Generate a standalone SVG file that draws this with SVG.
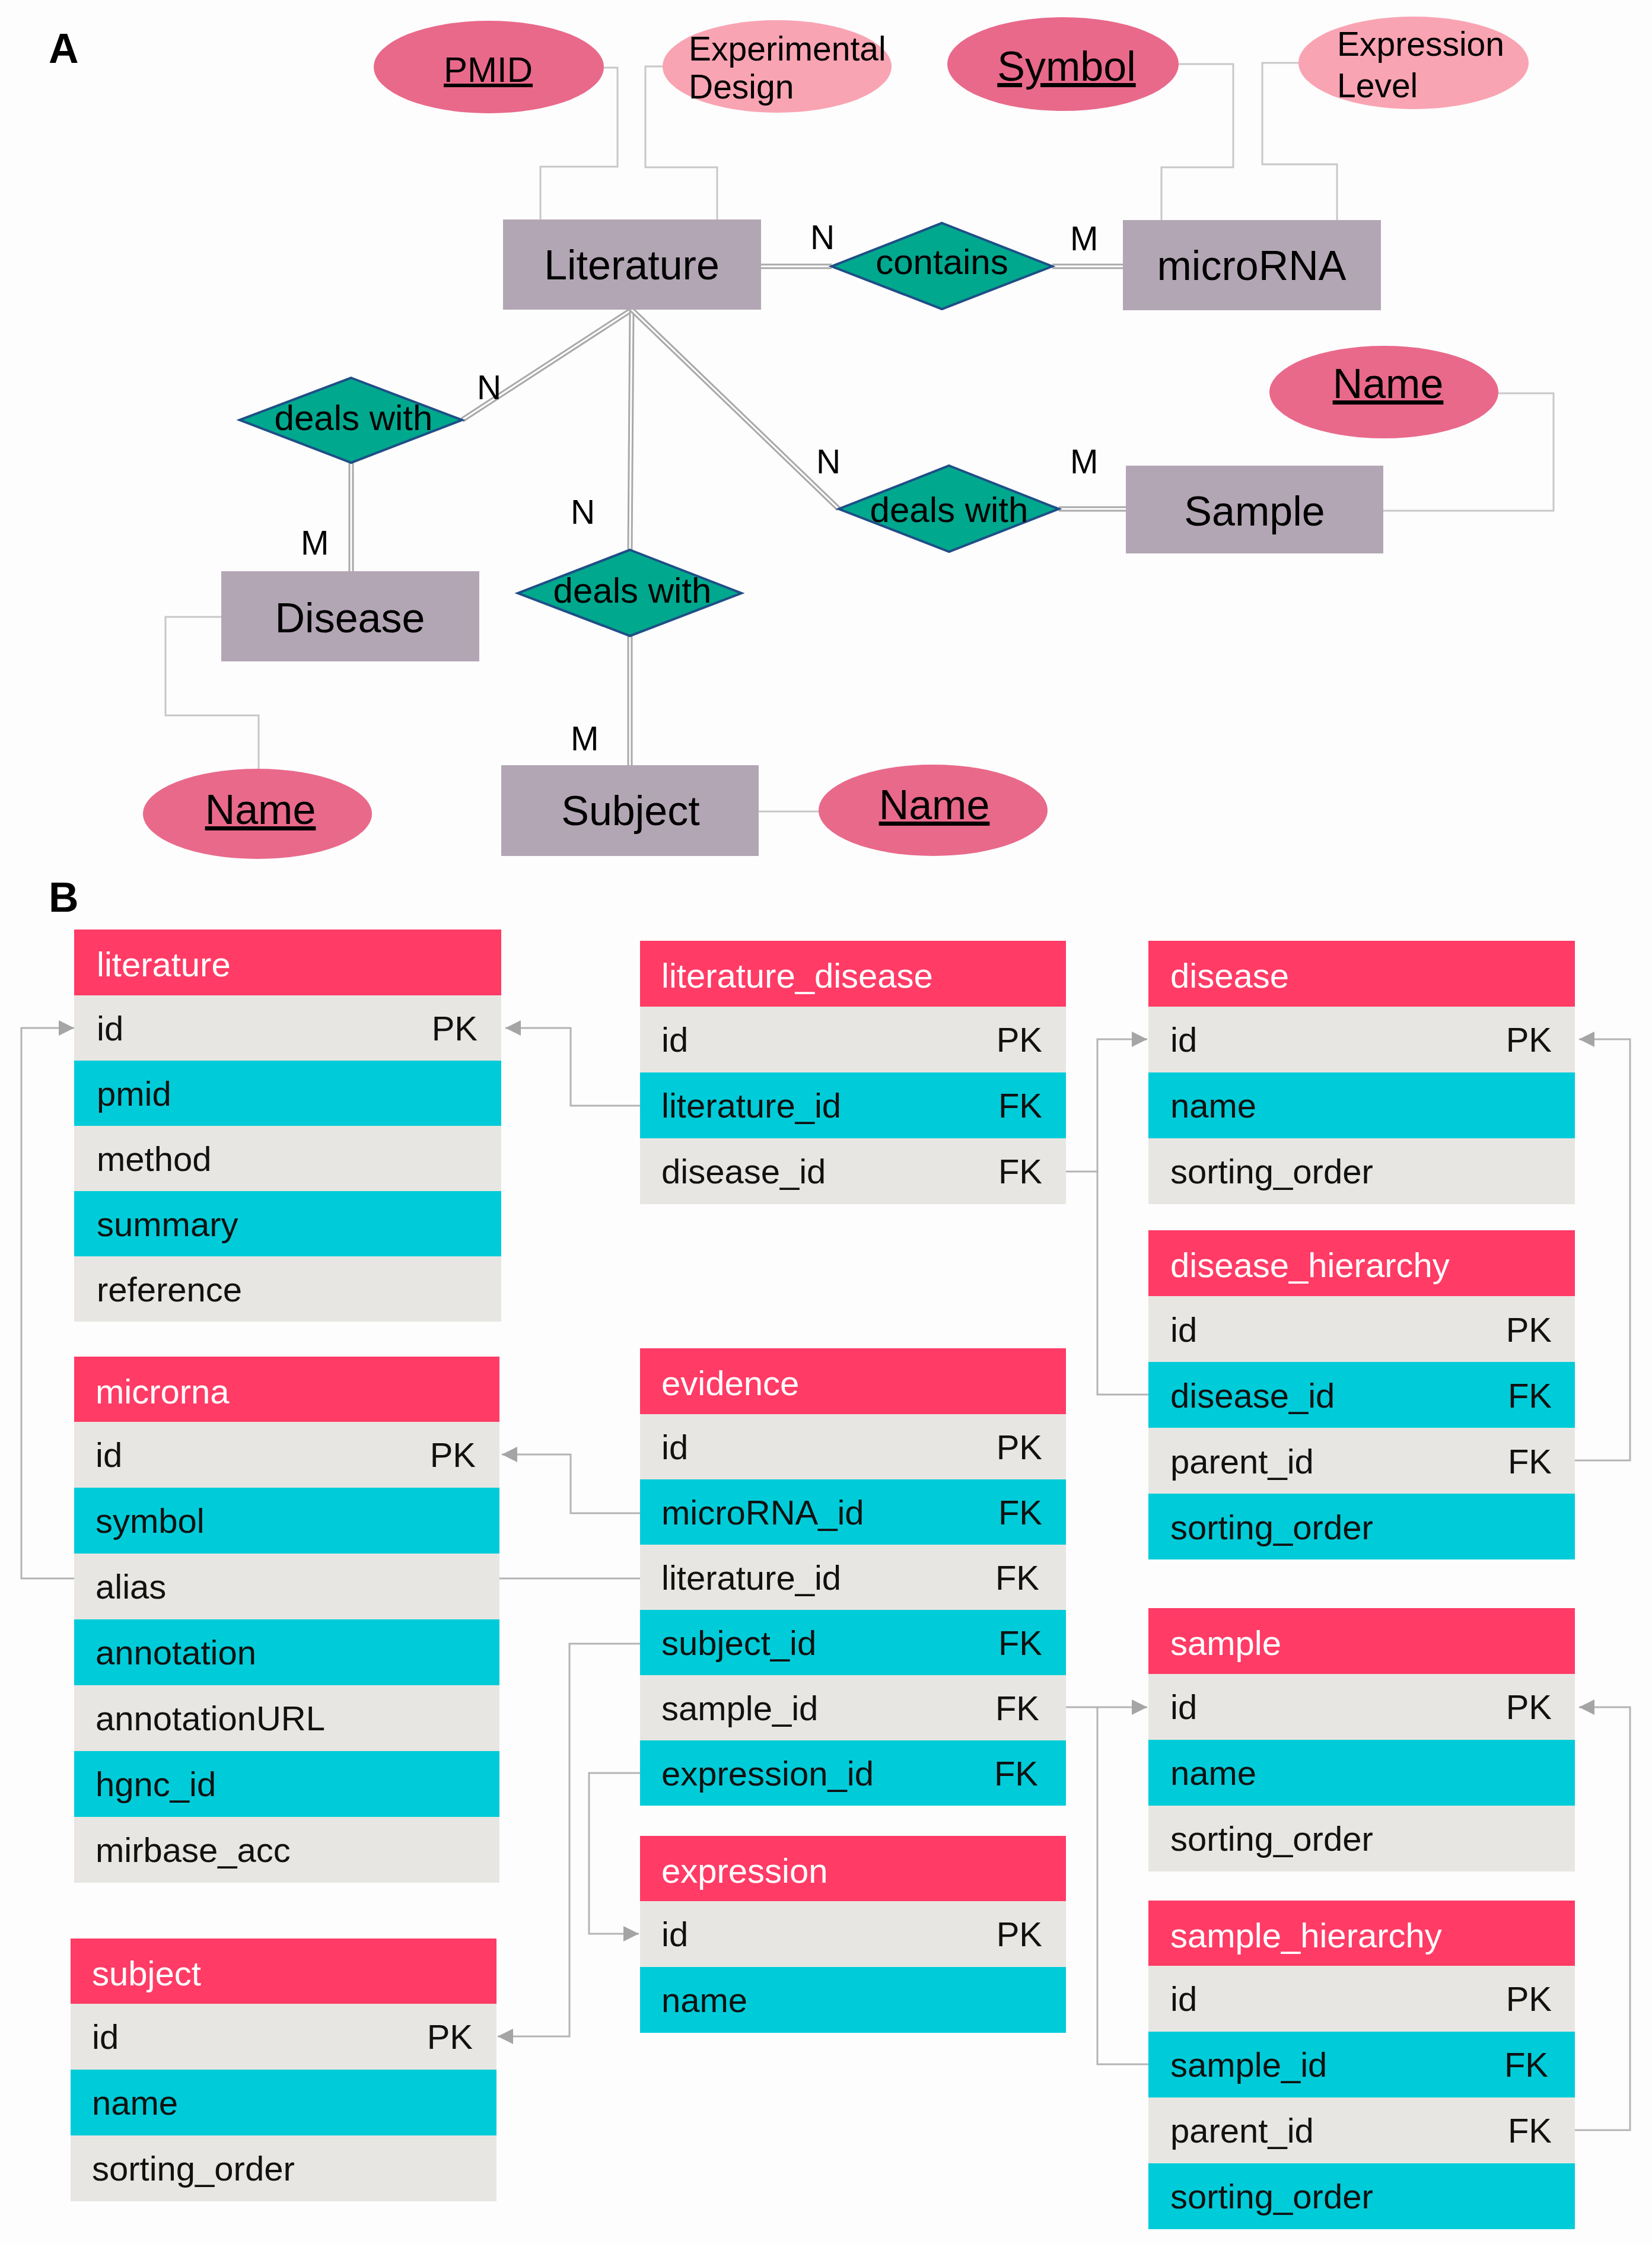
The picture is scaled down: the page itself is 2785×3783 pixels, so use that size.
<svg xmlns="http://www.w3.org/2000/svg" width="2785" height="3783" viewBox="0 0 2785 3783">
<style>
.ent{fill:#B3A6B4}
.rel{fill:#00A88E;stroke:#1F4E86;stroke-width:4;stroke-linejoin:miter}
.key{fill:#E9698B}
.att{fill:#F9A4B3}
.t70{font-family:"Liberation Sans",Arial,sans-serif;font-size:70px;fill:#000;text-anchor:middle}
.t60{font-family:"Liberation Sans",Arial,sans-serif;font-size:60px;fill:#000;text-anchor:middle}
.t57{font-family:"Liberation Sans",Arial,sans-serif;font-size:57px;fill:#000}
.lab{font-family:"Liberation Sans",Arial,sans-serif;font-size:57px;fill:#000}
.u{text-decoration:underline}
.big{font-family:"Liberation Sans",Arial,sans-serif;font-size:70px;font-weight:bold;fill:#000}
.dbo{fill:none;stroke:#A9A9A9;stroke-width:9}
.dbi{fill:none;stroke:#FFFFFF;stroke-width:3}
.thin{fill:none;stroke:#C8C8C8;stroke-width:3}
.fk{fill:none;stroke:#B4B4B4;stroke-width:3}
.hdr{fill:#FF3B66}
.g{fill:#E8E6E2}
.c{fill:#00CCD9}
.ht{font-family:"Liberation Sans",Arial,sans-serif;font-size:58px;fill:#FFFFFF}
.rt{font-family:"Liberation Sans",Arial,sans-serif;font-size:58px;fill:#111}
.k{text-anchor:end}
</style>
<defs>
<marker id="arr" viewBox="0 0 10 10" refX="10" refY="5" markerWidth="26" markerHeight="32" markerUnits="userSpaceOnUse" orient="auto">
<path d="M0,0 L10,5 L0,10 z" fill="#A5A5A5"/>
</marker>
</defs>
<rect x="0" y="0" width="2785" height="3783" fill="#FDFDFD"/>
<text class="big" x="82" y="106">A</text>
<text class="big" x="82" y="1537">B</text>

<g id="connectors-A">
<path class="thin" d="M1018,114 H1041 V281 H911 V370"/>
<path class="thin" d="M1119,112 H1088 V282 H1209 V370"/>
<path class="thin" d="M1987,108 H2079 V282 H1958 V371"/>
<path class="thin" d="M2189,106 H2128 V277 H2254 V371"/>
<path class="thin" d="M2525,663 H2619 V861 H2332"/>
<path class="thin" d="M373,1040 H279 V1206 H436 V1296"/>
<path class="thin" d="M1279,1368 H1382"/>
<g>
<path class="dbo" d="M1283,449 H1402"/><path class="dbi" d="M1283,449 H1402"/>
<path class="dbo" d="M1774,449 H1893"/><path class="dbi" d="M1774,449 H1893"/>
<path class="dbo" d="M1065,522 L779,708"/><path class="dbi" d="M1065,522 L779,708"/>
<path class="dbo" d="M1065,522 L1062,927"/><path class="dbi" d="M1065,522 L1062,927"/>
<path class="dbo" d="M1065,522 L1414,858"/><path class="dbi" d="M1065,522 L1414,858"/>
<path class="dbo" d="M592,780 V963"/><path class="dbi" d="M592,780 V963"/>
<path class="dbo" d="M1062,1072 V1290"/><path class="dbi" d="M1062,1072 V1290"/>
<path class="dbo" d="M1785,858 H1898"/><path class="dbi" d="M1785,858 H1898"/>
</g>
<text class="lab" x="1366" y="420">N</text>
<text class="lab" x="1804" y="422">M</text>
<text class="lab" x="804" y="673">N</text>
<text class="lab" x="507" y="935">M</text>
<text class="lab" x="962" y="883">N</text>
<text class="lab" x="962" y="1265">M</text>
<text class="lab" x="1376" y="798">N</text>
<text class="lab" x="1804" y="798">M</text>
</g>

<g id="attr-pmid"><ellipse class="key" cx="824" cy="113" rx="194" ry="78"/><text class="t60 u" x="823" y="138">PMID</text></g>
<g id="attr-expdesign"><ellipse class="att" cx="1310" cy="112" rx="193" ry="78"/><text class="t57" x="1161" y="102">Experimental</text><text class="t57" x="1161" y="166">Design</text></g>
<g id="attr-symbol"><ellipse class="key" cx="1792" cy="108" rx="195" ry="79"/><text class="t70 u" x="1798" y="136">Symbol</text></g>
<g id="attr-explevel"><ellipse class="att" cx="2383" cy="106" rx="194" ry="78"/><text class="t57" x="2254" y="94">Expression</text><text class="t57" x="2254" y="164">Level</text></g>
<g id="ent-literature"><rect class="ent" x="848" y="370" width="435" height="152"/><text class="t70" x="1065" y="471">Literature</text></g>
<g id="rel-contains"><polygon class="rel" points="1588,376 1774,449 1588,521 1402,449"/><text class="t60" x="1588" y="462">contains</text></g>
<g id="ent-microrna"><rect class="ent" x="1893" y="371" width="435" height="152"/><text class="t70" x="2110" y="472">microRNA</text></g>
<g id="attr-sample-name"><ellipse class="key" cx="2333" cy="661" rx="193" ry="78"/><text class="t70 u" x="2340" y="671">Name</text></g>
<g id="rel-deals-disease"><polygon class="rel" points="592,637 779,708 592,780 404,708"/><text class="t60" x="596" y="725">deals with</text></g>
<g id="rel-deals-sample"><polygon class="rel" points="1600,785 1785,858 1600,930 1414,858"/><text class="t60" x="1600" y="880">deals with</text></g>
<g id="ent-sample"><rect class="ent" x="1898" y="785" width="434" height="148"/><text class="t70" x="2115" y="886">Sample</text></g>
<g id="rel-deals-subject"><polygon class="rel" points="1062,927 1250,1000 1062,1072 873,1000"/><text class="t60" x="1066" y="1016">deals with</text></g>
<g id="ent-disease"><rect class="ent" x="373" y="963" width="435" height="152"/><text class="t70" x="590" y="1066">Disease</text></g>
<g id="ent-subject"><rect class="ent" x="845" y="1290" width="434" height="153"/><text class="t70" x="1063" y="1391">Subject</text></g>
<g id="attr-disease-name"><ellipse class="key" cx="434" cy="1372" rx="193" ry="76"/><text class="t70 u" x="439" y="1389">Name</text></g>
<g id="attr-subject-name"><ellipse class="key" cx="1573" cy="1366" rx="193" ry="77"/><text class="t70 u" x="1575" y="1381">Name</text></g>

<g id="connectors-B">
<path class="fk" d="M1079,1864 H962 V1733 H852" marker-end="url(#arr)"/>
<path class="fk" d="M1079,2661 H36 V1733 H125" marker-end="url(#arr)"/>
<path class="fk" d="M1079,2551 H962 V2452 H846" marker-end="url(#arr)"/>
<path class="fk" d="M1079,2771 H960 V3433 H839" marker-end="url(#arr)"/>
<path class="fk" d="M1079,2989 H993 V3260 H1077" marker-end="url(#arr)"/>
<path class="fk" d="M1797,1975 H1850 V1752 H1934" marker-end="url(#arr)"/>
<path class="fk" d="M1936,2351 H1850 V1975"/>
<path class="fk" d="M2655,2462 H2748 V1752 H2662" marker-end="url(#arr)"/>
<path class="fk" d="M1797,2878 H1934" marker-end="url(#arr)"/>
<path class="fk" d="M1936,3480 H1850 V2878"/>
<path class="fk" d="M2655,3591 H2748 V2878 H2662" marker-end="url(#arr)"/>
</g>

<g id="tbl-literature">
<rect class="hdr" x="125" y="1567" width="720" height="111"/>
<rect class="g" x="125" y="1678" width="720" height="110"/>
<rect class="c" x="125" y="1788" width="720" height="110"/>
<rect class="g" x="125" y="1898" width="720" height="110"/>
<rect class="c" x="125" y="2008" width="720" height="110"/>
<rect class="g" x="125" y="2118" width="720" height="110"/>
<text class="ht" x="163" y="1646">literature</text>
<text class="rt" x="163" y="1754">id</text><text class="rt k" x="805" y="1754">PK</text>
<text class="rt" x="163" y="1864">pmid</text>
<text class="rt" x="163" y="1974">method</text>
<text class="rt" x="163" y="2084">summary</text>
<text class="rt" x="163" y="2194">reference</text>
</g>

<g id="tbl-literature_disease">
<rect class="hdr" x="1079" y="1586" width="718" height="111"/>
<rect class="g" x="1079" y="1697" width="718" height="111"/>
<rect class="c" x="1079" y="1808" width="718" height="111"/>
<rect class="g" x="1079" y="1919" width="718" height="111"/>
<text class="ht" x="1115" y="1665">literature_disease</text>
<text class="rt" x="1115" y="1773">id</text><text class="rt k" x="1757" y="1773">PK</text>
<text class="rt" x="1115" y="1884">literature_id</text><text class="rt k" x="1757" y="1884">FK</text>
<text class="rt" x="1115" y="1995">disease_id</text><text class="rt k" x="1757" y="1995">FK</text>
</g>

<g id="tbl-disease">
<rect class="hdr" x="1936" y="1586" width="719" height="111"/>
<rect class="g" x="1936" y="1697" width="719" height="111"/>
<rect class="c" x="1936" y="1808" width="719" height="111"/>
<rect class="g" x="1936" y="1919" width="719" height="111"/>
<text class="ht" x="1973" y="1665">disease</text>
<text class="rt" x="1973" y="1773">id</text><text class="rt k" x="2616" y="1773">PK</text>
<text class="rt" x="1973" y="1884">name</text>
<text class="rt" x="1973" y="1995">sorting_order</text>
</g>

<g id="tbl-disease_hierarchy">
<rect class="hdr" x="1936" y="2074" width="719" height="111"/>
<rect class="g" x="1936" y="2185" width="719" height="111"/>
<rect class="c" x="1936" y="2296" width="719" height="111"/>
<rect class="g" x="1936" y="2407" width="719" height="111"/>
<rect class="c" x="1936" y="2518" width="719" height="111"/>
<text class="ht" x="1973" y="2153">disease_hierarchy</text>
<text class="rt" x="1973" y="2262">id</text><text class="rt k" x="2616" y="2262">PK</text>
<text class="rt" x="1973" y="2373">disease_id</text><text class="rt k" x="2616" y="2373">FK</text>
<text class="rt" x="1973" y="2484">parent_id</text><text class="rt k" x="2616" y="2484">FK</text>
<text class="rt" x="1973" y="2595">sorting_order</text>
</g>

<g id="tbl-microrna">
<rect class="hdr" x="125" y="2287" width="717" height="110"/>
<rect class="g" x="125" y="2397" width="717" height="111"/>
<rect class="c" x="125" y="2508" width="717" height="111"/>
<rect class="g" x="125" y="2619" width="717" height="111"/>
<rect class="c" x="125" y="2730" width="717" height="111"/>
<rect class="g" x="125" y="2841" width="717" height="111"/>
<rect class="c" x="125" y="2952" width="717" height="111"/>
<rect class="g" x="125" y="3063" width="717" height="111"/>
<text class="ht" x="161" y="2366">microrna</text>
<text class="rt" x="161" y="2473">id</text><text class="rt k" x="802" y="2473">PK</text>
<text class="rt" x="161" y="2584">symbol</text>
<text class="rt" x="161" y="2695">alias</text>
<text class="rt" x="161" y="2806">annotation</text>
<text class="rt" x="161" y="2917">annotationURL</text>
<text class="rt" x="161" y="3028">hgnc_id</text>
<text class="rt" x="161" y="3139">mirbase_acc</text>
</g>

<g id="tbl-evidence">
<rect class="hdr" x="1079" y="2273" width="718" height="111"/>
<rect class="g" x="1079" y="2384" width="718" height="110"/>
<rect class="c" x="1079" y="2494" width="718" height="110"/>
<rect class="g" x="1079" y="2604" width="718" height="110"/>
<rect class="c" x="1079" y="2714" width="718" height="110"/>
<rect class="g" x="1079" y="2824" width="718" height="110"/>
<rect class="c" x="1079" y="2934" width="718" height="110"/>
<text class="ht" x="1115" y="2352">evidence</text>
<text class="rt" x="1115" y="2460">id</text><text class="rt k" x="1757" y="2460">PK</text>
<text class="rt" x="1115" y="2570">microRNA_id</text><text class="rt k" x="1757" y="2570">FK</text>
<text class="rt" x="1115" y="2680">literature_id</text><text class="rt k" x="1752" y="2680">FK</text>
<text class="rt" x="1115" y="2790">subject_id</text><text class="rt k" x="1757" y="2790">FK</text>
<text class="rt" x="1115" y="2900">sample_id</text><text class="rt k" x="1752" y="2900">FK</text>
<text class="rt" x="1115" y="3010">expression_id</text><text class="rt k" x="1750" y="3010">FK</text>
</g>

<g id="tbl-expression">
<rect class="hdr" x="1079" y="3095" width="718" height="110"/>
<rect class="g" x="1079" y="3205" width="718" height="111"/>
<rect class="c" x="1079" y="3316" width="718" height="111"/>
<text class="ht" x="1115" y="3174">expression</text>
<text class="rt" x="1115" y="3281">id</text><text class="rt k" x="1757" y="3281">PK</text>
<text class="rt" x="1115" y="3392">name</text>
</g>

<g id="tbl-subject">
<rect class="hdr" x="119" y="3268" width="718" height="110"/>
<rect class="g" x="119" y="3378" width="718" height="111"/>
<rect class="c" x="119" y="3489" width="718" height="111"/>
<rect class="g" x="119" y="3600" width="718" height="111"/>
<text class="ht" x="155" y="3347">subject</text>
<text class="rt" x="155" y="3454">id</text><text class="rt k" x="797" y="3454">PK</text>
<text class="rt" x="155" y="3565">name</text>
<text class="rt" x="155" y="3676">sorting_order</text>
</g>

<g id="tbl-sample">
<rect class="hdr" x="1936" y="2711" width="719" height="111"/>
<rect class="g" x="1936" y="2822" width="719" height="111"/>
<rect class="c" x="1936" y="2933" width="719" height="111"/>
<rect class="g" x="1936" y="3044" width="719" height="111"/>
<text class="ht" x="1973" y="2790">sample</text>
<text class="rt" x="1973" y="2898">id</text><text class="rt k" x="2616" y="2898">PK</text>
<text class="rt" x="1973" y="3009">name</text>
<text class="rt" x="1973" y="3120">sorting_order</text>
</g>

<g id="tbl-sample_hierarchy">
<rect class="hdr" x="1936" y="3204" width="719" height="110"/>
<rect class="g" x="1936" y="3314" width="719" height="111"/>
<rect class="c" x="1936" y="3425" width="719" height="111"/>
<rect class="g" x="1936" y="3536" width="719" height="111"/>
<rect class="c" x="1936" y="3647" width="719" height="111"/>
<text class="ht" x="1973" y="3283">sample_hierarchy</text>
<text class="rt" x="1973" y="3390">id</text><text class="rt k" x="2616" y="3390">PK</text>
<text class="rt" x="1973" y="3501">sample_id</text><text class="rt k" x="2610" y="3501">FK</text>
<text class="rt" x="1973" y="3612">parent_id</text><text class="rt k" x="2616" y="3612">FK</text>
<text class="rt" x="1973" y="3723">sorting_order</text>
</g>
</svg>
